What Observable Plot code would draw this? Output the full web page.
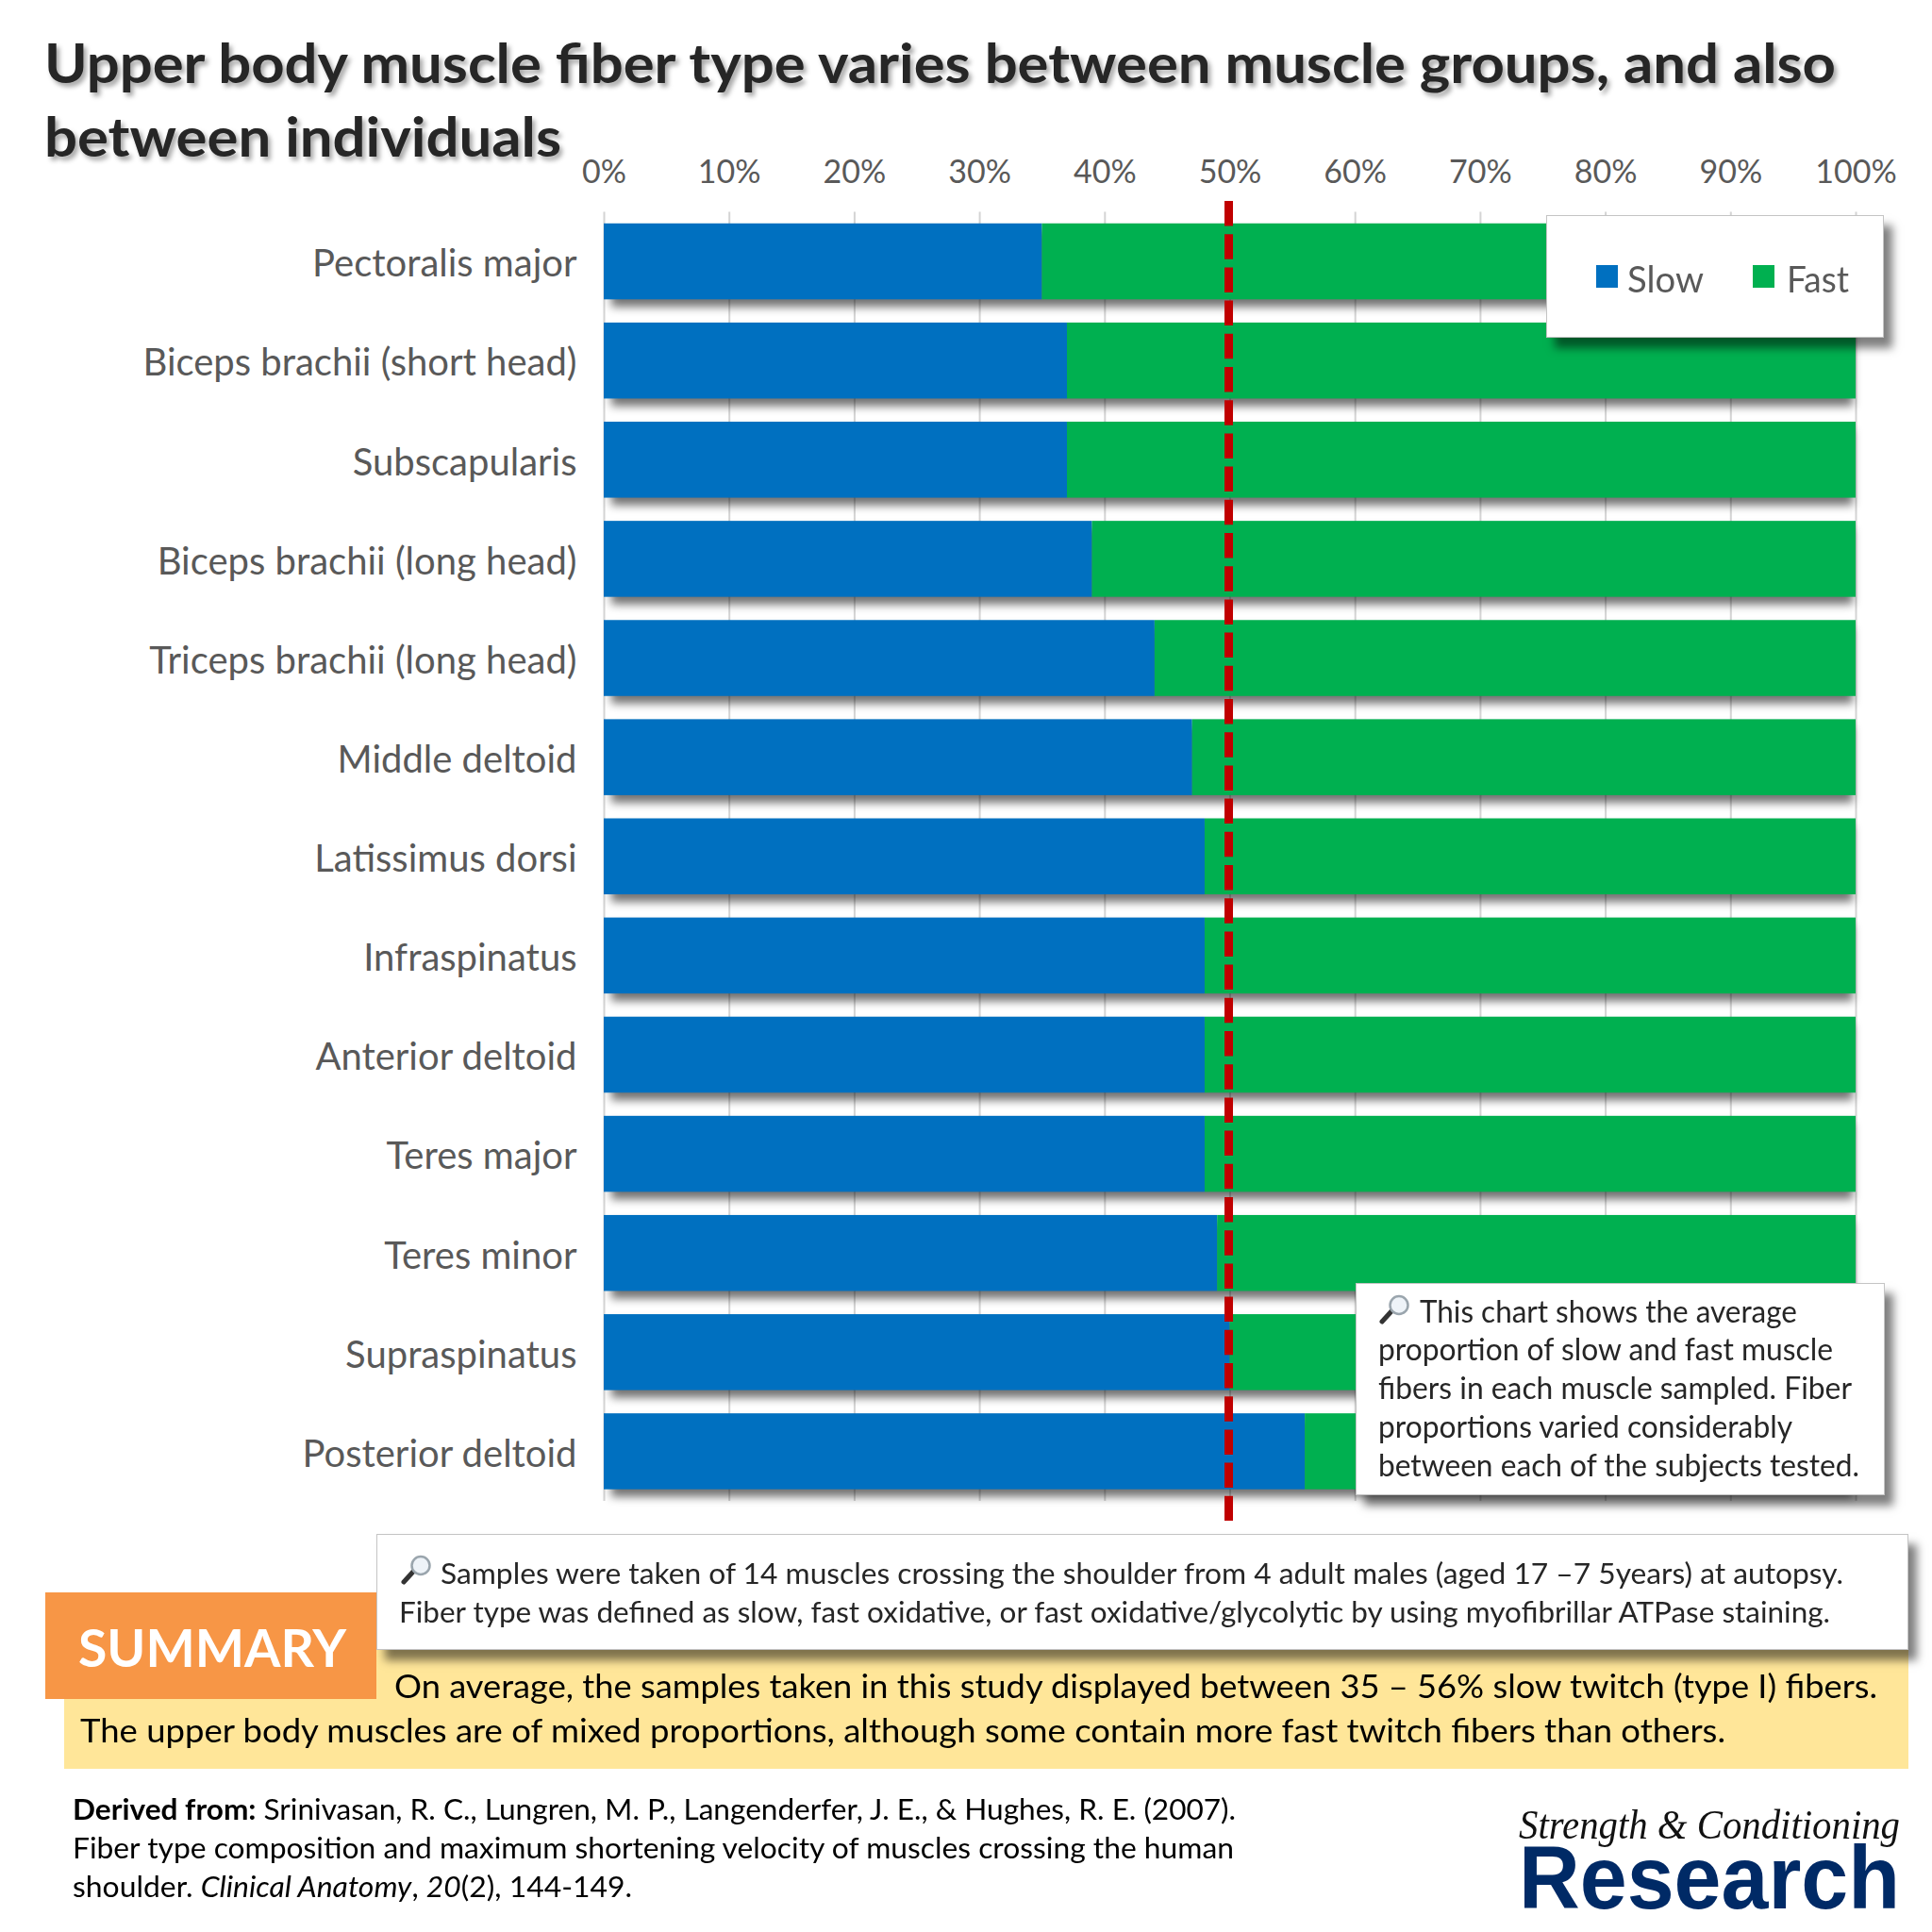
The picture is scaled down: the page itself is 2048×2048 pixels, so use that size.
<!DOCTYPE html>
<html><head><meta charset="utf-8">
<script src="https://cdn.jsdelivr.net/npm/d3@7"></script>
<script src="https://cdn.jsdelivr.net/npm/@observablehq/plot@0.6"></script>
<style>
html,body{margin:0;padding:0;background:#fff}
body{position:relative;width:2048px;height:2048px;overflow:hidden;font-family:Lato,sans-serif}
#chart{position:absolute;left:0;top:0}
.box{position:absolute;box-sizing:border-box}
.shadow{background:#fff;border:1.5px solid #c4c4c4;box-shadow:9px 11px 9px rgba(0,0,0,.5)}
.ln{position:absolute;white-space:nowrap;transform-origin:0 50%}
</style></head><body>
<div id="chart"></div>
<script>
const muscles = ["Pectoralis major","Biceps brachii (short head)","Subscapularis","Biceps brachii (long head)","Triceps brachii (long head)","Middle deltoid","Latissimus dorsi","Infraspinatus","Anterior deltoid","Teres major","Teres minor","Supraspinatus","Posterior deltoid"];
const slow = [35,37,37,39,44,47,48,48,48,48,49,50,56];
const fast = [65,63,63,61,56,53,52,52,52,52,51,50,44];
const seriesNames = ["Slow","Fast"];
const seriesColors = ["#0070c0","#00b050"];
const xTicks = [0,10,20,30,40,50,60,70,80,90,100];
const refValue = [50];

const rows = [
  ...muscles.map((m,i)=>({muscle:m,series:"Slow",value:slow[i]})),
  ...muscles.map((m,i)=>({muscle:m,series:"Fast",value:fast[i]}))
];
const FONT = "Lato, sans-serif";
const plot = Plot.plot({
  width:2048, height:1640,
  marginLeft:640, marginRight:81, marginTop:224.5, marginBottom:49,
  style:{fontFamily:FONT, background:"transparent", overflow:"visible"},
  x:{domain:[0,100], axis:null},
  y:{domain:muscles, paddingInner:0.234, paddingOuter:0.117, round:false, axis:null},
  color:{domain:seriesNames, range:seriesColors},
  marks:[
    Plot.ruleX(xTicks,{stroke:"#d4d4d4",strokeWidth:2}),
    Plot.barX(muscles,{x1:(d,i)=>0,x2:(d,i)=>slow[i]+fast[i],y:d=>d,fill:"#000",fillOpacity:0.55,insetLeft:8,insetRight:3,dy:8}),
    Plot.barX(rows,Plot.stackX({x:"value",y:"muscle",fill:"series",order:seriesNames})),
    Plot.ruleX(refValue,{stroke:"#c00000",strokeWidth:9,strokeDasharray:"26.5,8.7",insetTop:-11.5,insetBottom:-21,dx:-1.5}),
    Plot.axisX(xTicks,{anchor:"top",tickSize:0,tickPadding:31,label:null,tickFormat:d=>d+"%",fontSize:34,fill:"#595959",fontFamily:FONT}),
    Plot.axisY({anchor:"left",tickSize:0,tickPadding:29,label:null,fontSize:40,fill:"#595959",fontFamily:FONT,dy:3})
  ]
});
document.getElementById("chart").append(plot);
const barGs = plot.querySelectorAll('g[aria-label="bar"]');
if (barGs[0]) barGs[0].style.filter = "blur(5px)";

const titleLines = ["Upper body muscle fiber type varies between muscle groups, and also","between individuals"];
const legendEntries = seriesNames;
const noteLines = ["This chart shows the average","proportion of slow and fast muscle","fibers in each muscle sampled. Fiber","proportions varied considerably","between each of the subjects tested."];
const methodLines = ["Samples were taken of 14 muscles crossing the shoulder from 4 adult males (aged 17 –7 5years) at autopsy.","Fiber type was defined as slow, fast oxidative, or fast oxidative/glycolytic by using myofibrillar ATPase staining."];
const summaryLabel = "SUMMARY";
const summaryLines = ["On average, the samples taken in this study displayed between 35 – 56% slow twitch (type I) fibers.","The upper body muscles are of mixed proportions, although some contain more fast twitch fibers than others."];
const citationLines = ["<b>Derived from:</b> Srinivasan, R. C., Lungren, M. P., Langenderfer, J. E., &amp; Hughes, R. E. (2007).","Fiber type composition and maximum shortening velocity of muscles crossing the human","shoulder. <i>Clinical Anatomy</i>, <i>20</i>(2), 144-149."];
const logoLines = ["Strength &amp; Conditioning","Research"];

function box(x0,y0,x1,y1,cls,bg){
  const d=document.createElement("div");d.className="box "+(cls||"");
  d.style.cssText=`left:${x0}px;top:${y0}px;width:${x1-x0}px;height:${y1-y0}px;`+(bg?`background:${bg};`:"");
  document.body.append(d);return d;
}
function line(html,x0,x1,yc,size,color,opt={}){
  const d=document.createElement("div");d.className="ln";
  d.innerHTML=html;
  d.style.cssText=`left:${x0}px;top:${yc-0.6*size}px;line-height:${1.2*size}px;font-size:${size}px;color:${color};font-family:${opt.family||FONT};font-weight:${opt.weight||400};${opt.italic?"font-style:italic;":""}${opt.shadow?`text-shadow:${opt.shadow};`:""}`;
  document.body.append(d);
  const w=d.getBoundingClientRect().width, target=x1-x0;
  d.style.transform=`scaleX(${target/w})`;
  return d;
}
function icon(x,y,w,h){
  const s=document.createElementNS("http://www.w3.org/2000/svg","svg");
  s.setAttribute("viewBox","0 0 33 32");
  s.style.cssText=`position:absolute;left:${x}px;top:${y}px;width:${w}px;height:${h}px`;
  s.innerHTML=`<line x1="3" y1="29" x2="13" y2="18" stroke="#333" stroke-width="5" stroke-linecap="round"/><circle cx="21" cy="11.5" r="9.5" fill="#eef3f8" stroke="#9aa5ad" stroke-width="2.5"/>`;
  document.body.append(s);
}

// title
const ts="3px 4px 5px rgba(0,0,0,.35)";
line(titleLines[0],47,1946,66,58,"#262626",{weight:700,shadow:ts});
line(titleLines[1],47,595,144,58,"#262626",{weight:700,shadow:ts});

// legend
box(1639,228,1997,358,"shadow");
box(1691.5,281,1715,305,"",seriesColors[0]);
box(1857.5,281,1881,305,"",seriesColors[1]);
line(legendEntries[0],1725,1806,295,39,"#595959");
line(legendEntries[1],1894,1960,295,39,"#595959");

// note
box(1437,1360,1998,1585,"shadow");
icon(1462,1372,33,32);
const noteX=[[1505,1905],[1461,1943],[1461,1963],[1461,1900],[1461,1971]];
const noteY=[1390,1430,1471,1512,1553];
noteLines.forEach((t,i)=>line(t,noteX[i][0],noteX[i][1],noteY[i],32,"#262626"));

// summary strip
box(68,1740,2023,1875,"","#ffe699");
line(summaryLines[0],418,1990,1787.5,34,"#000");
line(summaryLines[1],85,1829,1834.5,34,"#000");

// method box
box(399,1626,2023,1749,"shadow");
icon(425,1648,33,32);
line(methodLines[0],467,1954,1667,30,"#262626");
line(methodLines[1],423,1940,1708,30,"#262626");

// orange label
box(48,1688,399,1801,"","#f79646");
line(summaryLabel,83,367,1746,56,"#fff",{weight:700});

// citation
line(citationLines[0],77,1310,1917,30,"#000");
line(citationLines[1],77,1308,1958,30,"#000");
line(citationLines[2],77,670,1999,30,"#000");

// logo
line(logoLines[0],1610,2014,1935,44,"#111",{family:"'Liberation Serif',serif",italic:true});
line(logoLines[1],1610,2014,1990,95,"#002a66",{family:"'Liberation Sans',sans-serif",weight:700});
</script>
</body></html>
